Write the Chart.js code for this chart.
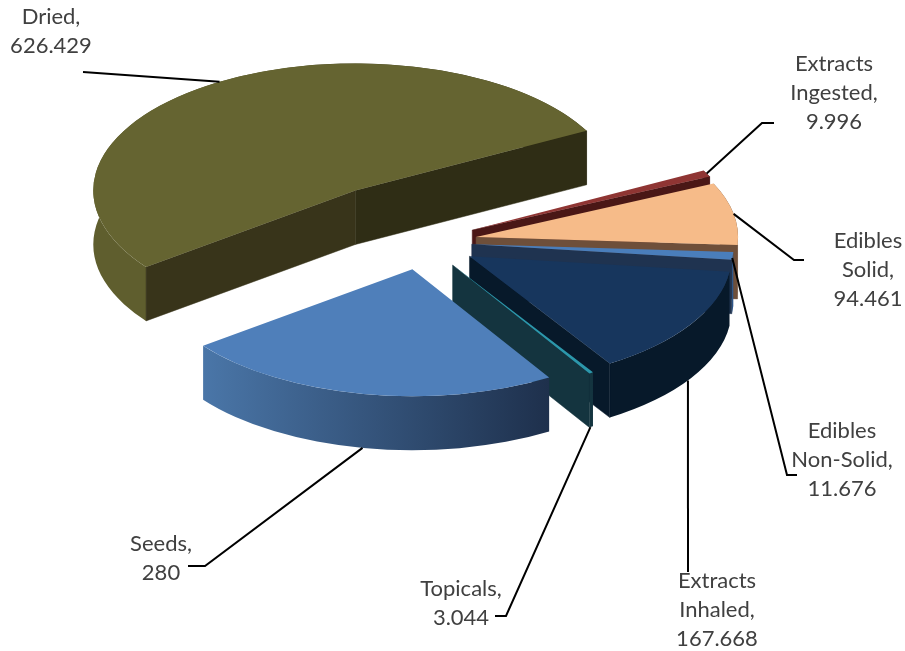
<!DOCTYPE html>
<html>
<head>
<meta charset="utf-8">
<title>Exploded 3D pie</title>
<script src="https://cdn.jsdelivr.net/npm/chart.js@4/dist/chart.umd.js"></script>
<style>
  html, body { margin: 0; padding: 0; background: #fff; }
  canvas { display: block; }
</style>
</head>
<body>
<canvas id="pie" width="905" height="651"></canvas>
<script>
// datos
const categories = ["Dried", "Extracts Ingested", "Edibles Solid", "Edibles Non-Solid", "Extracts Inhaled", "Topicals", "Seeds"];
const values = [626.429, 9.996, 94.461, 11.676, 167.668, 3.044, 280];

// colores por porcion
const topColors = ["#656431", "#8f3533", "#f6bb89", "#4a7ebb", "#17365d", "#2c97ab", "#4f7fba"];
const cutStart = ["#38341a", "#4a1716", "#6e4f3a", "#1f3350", "#07192a", "#14343f", "#1f314d"];
const cutEnd = ["#2f2d15", "#4a1716", "#6e4f3a", "#1f3350", "#07192a", "#14343f", "#1f314d"];
const sideFrom = ["#5f5e2e", "#6b2725", "#6e4f3a", "#3a6aa4", "#07192a", "#14343f", "#4a76a8"];
const sideTo = ["#2f2d15", "#4a1716", "#7d5d44", "#2a4f80", "#07192a", "#14343f", "#1e304c"];

// forma del pastel
const squash = 0.485;
const depth = 54;
const explode = [126, 55, 54, 49, 55, 56, 57];
const leaderShift = [1.3, 0, 0.2, 1, 1.2, 0.2, 0.2];

// etiquetas: centro x, y de la primera linea, y resto de la guia
const labelPos = [[51, 17], [834, 64], [868, 241], [842, 431], [717, 581], [461, 589], [161, 544]];
const leaderRest = [
  [[83, 72]],
  [[762, 123], [774, 123]],
  [[794, 260], [804, 260]],
  [[787, 475], [797, 475]],
  [[688, 572]],
  [[506, 616], [495, 616]],
  [[205, 566], [188, 566]]
];
const lineGap = 29;

function apexOf(arc, i) {
  const mid = (arc.startAngle + arc.endAngle) / 2;
  return {
    x: arc.x + Math.cos(mid) * explode[i],
    y: arc.y + Math.sin(mid) * explode[i] * squash
  };
}

function drawCut(ctx, apex, arc, angle, color) {
  const r = arc.outerRadius;
  const ex = apex.x + Math.cos(angle) * r;
  const ey = apex.y + Math.sin(angle) * r * squash;
  ctx.fillStyle = color;
  ctx.strokeStyle = color;
  ctx.lineWidth = 0.5;
  ctx.beginPath();
  ctx.moveTo(apex.x, apex.y);
  ctx.lineTo(ex, ey);
  ctx.lineTo(ex, ey + depth);
  ctx.lineTo(apex.x, apex.y + depth);
  ctx.closePath();
  ctx.fill();
  ctx.stroke();
}

function drawSide(ctx, apex, arc, i) {
  const r = arc.outerRadius;
  const xa = apex.x + Math.cos(arc.startAngle) * r;
  const xb = apex.x + Math.cos(arc.endAngle) * r;
  const grad = ctx.createLinearGradient(Math.min(xa, xb), 0, Math.max(xa, xb), 0);
  grad.addColorStop(0, sideFrom[i]);
  grad.addColorStop(1, sideTo[i]);
  ctx.fillStyle = grad;
  ctx.beginPath();
  ctx.ellipse(apex.x, apex.y, r, r * squash, 0, arc.startAngle, arc.endAngle);
  ctx.ellipse(apex.x, apex.y + depth, r, r * squash, 0, arc.endAngle, arc.startAngle, true);
  ctx.closePath();
  ctx.fill();
}

function drawLeader(ctx, apex, arc, i) {
  const a = (arc.startAngle + arc.endAngle) / 2 + leaderShift[i] * Math.PI / 180;
  const sx = apex.x + Math.cos(a) * arc.outerRadius;
  let sy = apex.y + Math.sin(a) * arc.outerRadius * squash;
  if (Math.sin(a) > 0.3) sy += depth;
  ctx.strokeStyle = "#000";
  ctx.lineWidth = 2;
  ctx.beginPath();
  ctx.moveTo(sx, sy);
  leaderRest[i].forEach(p => ctx.lineTo(p[0], p[1]));
  ctx.stroke();
}

function drawLabel(ctx, i) {
  const lines = categories[i].split(" ");
  lines[lines.length - 1] += ",";
  lines.push(String(values[i]));
  ctx.fillStyle = "#404040";
  ctx.font = "22px Lato";
  ctx.textAlign = "center";
  ctx.textBaseline = "middle";
  lines.forEach((t, n) => ctx.fillText(t, labelPos[i][0], labelPos[i][1] + n * lineGap));
}

const pie3d = {
  id: "pie3d",
  beforeDatasetsDraw(chart) {
    const ctx = chart.ctx;
    const arcs = chart.getDatasetMeta(0).data;
    arcs.forEach((arc, i) => {
      const apex = apexOf(arc, i);
      drawSide(ctx, apex, arc, i);
      // solo las caras de corte que miran hacia el frente
      if (Math.cos(arc.endAngle) > 0) drawCut(ctx, apex, arc, arc.endAngle, cutEnd[i]);
      if (Math.cos(arc.startAngle) < 0) drawCut(ctx, apex, arc, arc.startAngle, cutStart[i]);
      ctx.save();
      ctx.translate(apex.x, apex.y);
      ctx.scale(1, squash);
      ctx.translate(-arc.x, -arc.y);
      arc.draw(ctx);
      ctx.restore();
    });
    arcs.forEach((arc, i) => {
      drawLeader(ctx, apexOf(arc, i), arc, i);
      drawLabel(ctx, i);
    });
    return false;
  }
};

new Chart(document.getElementById("pie"), {
  type: "pie",
  data: {
    labels: categories,
    datasets: [{
      data: values,
      backgroundColor: topColors,
      borderWidth: 0
    }]
  },
  options: {
    responsive: false,
    animation: false,
    rotation: 233,
    radius: 262,
    layout: { padding: { left: 0, top: 0, right: 59, bottom: 167 } },
    plugins: {
      legend: { display: false },
      tooltip: { enabled: false }
    }
  },
  plugins: [pie3d]
});
</script>
</body>
</html>
